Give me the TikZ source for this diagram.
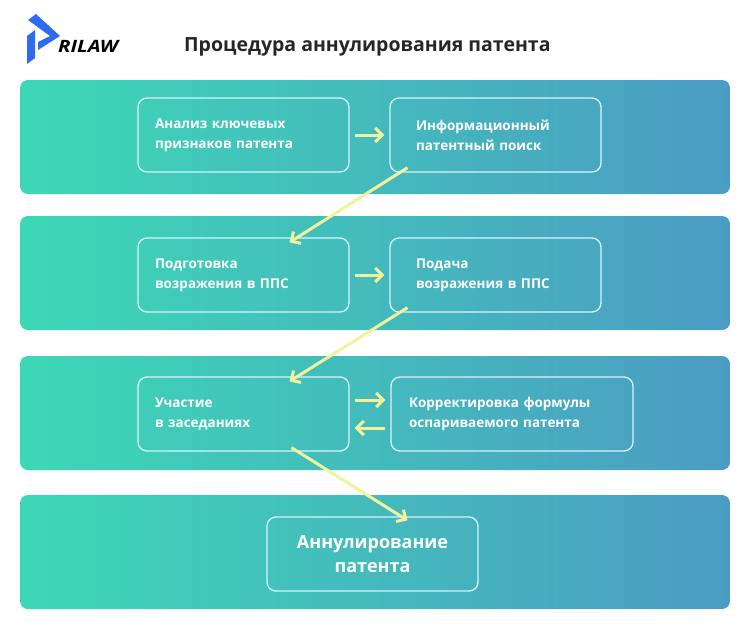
\documentclass[tikz,border=0pt]{standalone}
\usepackage{fontspec}
\setmainfont{Open Sans}
\usetikzlibrary{arrows.meta}
\begin{document}
\begin{tikzpicture}[x=1pt,y=-1pt,
  band/.style={rounded corners=8pt,left color=bl,right color=br},
  box/.style={draw=white!85!cyan,line width=1.3pt,rounded corners=9pt,minimum width=211pt,minimum height=74pt,text width=177pt,align=left,text=white,font=\bfseries\fontsize{13.5}{20}\selectfont,inner sep=0pt},
  ar/.style={draw=yl,line width=3pt,-{Straight Barb[length=7pt,width=14pt]}}]
\definecolor{bl}{HTML}{3DD8B6}
\definecolor{br}{HTML}{4B9CC3}
\definecolor{yl}{HTML}{F0F29C}
\definecolor{lb}{HTML}{2F6BF0}
\fill[white] (0,0) rectangle (750,638);
\useasboundingbox (0,0) rectangle (750,638);
% logo
\fill[lb] (28,20) -- (36,14) -- (60,36) -- (38,50) -- (38,42) -- (50,36) -- cycle;
\fill[lb] (27,36) -- (35,30) -- (35,58) -- (27,64) -- cycle;
\node[anchor=west,font=\bfseries\itshape\fontsize{17}{17}\selectfont,inner sep=0pt,xscale=1.2] (logo) at (58,46) {RILAW};
\node[anchor=west,font=\bfseries\fontsize{19.5}{22}\selectfont,text=black!85,inner sep=0pt] (title) at (184,47) {Процедура аннулирования патента};
\foreach \y in {80,216,356,495}{\shade[band] (20,\y) rectangle (730,\y+114);}
\node[box] (a) at (243.5,135) {Анализ ключевых\\признаков патента};
\node[box,text width=159pt] (b) at (495.5,135) {Информационный\\патентный поиск};
\node[box] (c) at (243.5,275) {Подготовка\\возражения в ППС};
\node[box,text width=159pt] (d) at (495.5,275) {Подача\\возражения в ППС};
\node[box] (e) at (243.5,414) {Участие\\в заседаниях};
\node[box,minimum width=242pt,text width=206pt] (f) at (512,414) {Корректировка формулы\\оспариваемого патента};
\node[box,text width=211pt,align=center,font=\bfseries\fontsize{18}{24}\selectfont] (g) at (372.5,554) {Аннулирование\\патента};
\draw[ar] ([xshift=5pt]a.east) -- ([xshift=-5pt]b.west);
\draw[ar] ([xshift=5pt]c.east) -- ([xshift=-5pt]d.west);
\draw[ar] ([xshift=5pt,yshift=14pt]e.east) -- ([xshift=-5pt,yshift=14pt]f.west);
\draw[ar] ([xshift=-5pt,yshift=-14pt]f.west) -- ([xshift=5pt,yshift=-14pt]e.east);
\draw[ar] ([xshift=-88pt,yshift=5pt]b.south) -- ([xshift=46pt,yshift=-5pt]c.north);
\draw[ar] ([xshift=-88pt,yshift=5pt]d.south) -- ([xshift=46pt,yshift=-5pt]e.north);
\draw[ar] ([xshift=48pt,yshift=4pt]e.south) -- ([xshift=35pt,yshift=-4pt]g.north);
\end{tikzpicture}
\end{document}
